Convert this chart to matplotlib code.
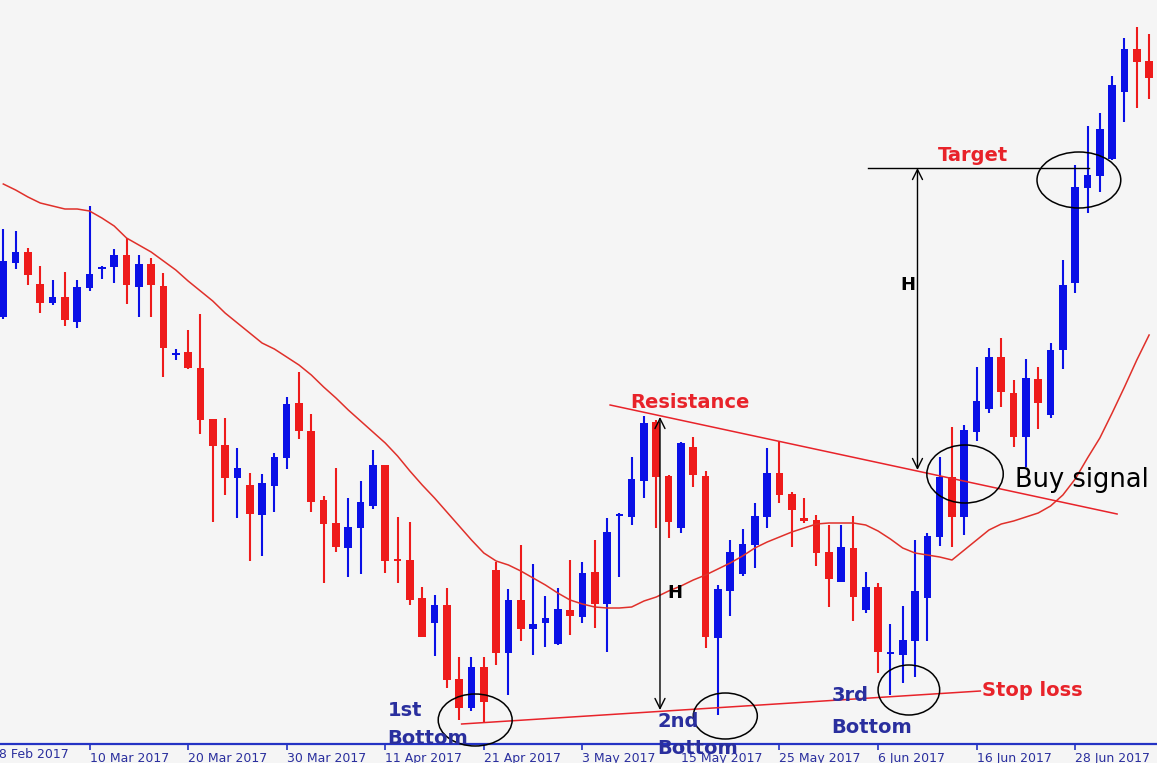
import matplotlib
matplotlib.use("Agg")
import matplotlib.pyplot as plt
from matplotlib.patches import Ellipse
import numpy as np

# ---------------- data (arbitrary price units) ----------------
opens = [483, 537, 548, 516, 497, 503, 478, 512, 531, 533, 545, 513, 536, 514, 445, 448,
         432, 381, 355, 322, 315, 285, 314, 342, 397, 369, 300, 277, 252, 272, 294, 335,
         240, 240, 202, 177, 195, 121, 92, 133, 230, 147, 200, 171, 177, 156, 190, 183,
         228, 196, 284, 283, 319, 378, 324, 272, 353, 324, 162, 209, 226, 255, 283, 327,
         306, 282, 280, 248, 218, 252, 190, 213, 146, 145, 159, 202, 263, 323, 283, 368,
         391, 443, 407, 363, 421, 385, 450, 517, 612, 624, 641, 708, 751, 739]
highs = [571, 569, 552, 534, 520, 528, 520, 594, 534, 551, 562, 545, 542, 527, 451, 470,
         486, 381, 382, 352, 327, 326, 347, 403, 428, 386, 304, 332, 302, 319, 350, 335,
         283, 278, 213, 205, 212, 143, 143, 143, 238, 211, 255, 236, 204, 212, 240, 238,
         260, 282, 287, 343, 384, 380, 325, 358, 363, 329, 215, 260, 271, 297, 352, 358,
         308, 302, 285, 275, 275, 284, 228, 217, 176, 194, 260, 267, 343, 373, 375, 433,
         452, 462, 420, 441, 433, 457, 540, 635, 674, 687, 724, 762, 773, 766]
lows = [481, 531, 515, 487, 495, 474, 472, 509, 521, 517, 496, 483, 483, 423, 440, 431,
        366, 278, 305, 282, 239, 244, 288, 331, 361, 288, 217, 248, 223, 226, 291, 227,
        217, 195, 163, 144, 112, 80, 89, 77, 135, 105, 159, 145, 153, 155, 165, 177,
        172, 148, 223, 275, 302, 272, 262, 267, 313, 152, 85, 184, 224, 232, 272, 297,
        253, 277, 234, 193, 218, 179, 187, 127, 105, 117, 123, 159, 254, 253, 265, 359,
        387, 393, 353, 333, 371, 382, 431, 507, 587, 608, 640, 678, 692, 701]
closes = [539, 548, 525, 497, 503, 480, 513, 526, 533, 545, 515, 536, 515, 452, 447, 432,
          380, 354, 322, 332, 286, 317, 343, 396, 369, 298, 276, 253, 273, 298, 335, 239,
          239, 200, 163, 195, 120, 92, 133, 98, 147, 200, 171, 176, 182, 191, 184, 227,
          196, 268, 286, 321, 377, 323, 278, 357, 325, 163, 211, 248, 256, 284, 327, 305,
          290, 279, 247, 221, 253, 203, 213, 148, 148, 160, 209, 264, 323, 283, 370, 399,
          443, 408, 363, 422, 397, 450, 515, 613, 625, 671, 715, 751, 738, 722]
moving_avg = [616, 610, 603, 597, 594, 591, 591, 589, 582, 574, 562, 555, 548, 539, 530, 519,
              509, 499, 487, 477, 467, 457, 451, 443, 435, 425, 413, 402, 390, 379, 368, 357,
              344, 329, 315, 302, 288, 274, 260, 247, 239, 235, 229, 222, 215, 207, 200, 196,
              193, 192, 192, 193, 199, 203, 209, 214, 220, 225, 231, 237, 244, 252, 258, 263,
              268, 272, 276, 277, 277, 277, 275, 269, 261, 252, 247, 245, 243, 240, 250, 260,
              270, 276, 279, 283, 287, 294, 305, 321, 342, 362, 387, 413, 440, 465]
tick_idx = [7, 15, 23, 31, 39, 47, 55, 63, 71, 79, 87]
tick_labels = ["10 Mar 2017", "20 Mar 2017", "30 Mar 2017", "11 Apr 2017", "21 Apr 2017",
               "3 May 2017", "15 May 2017", "25 May 2017", "6 Jun 2017", "16 Jun 2017",
               "28 Jun 2017"]
first_label = "28 Feb 2017"

# ---------------- styling ----------------
BG = "#f5f5f5"
UP = "#0a10e6"
DOWN = "#ee1b1b"
MA_C = "#e0302a"
AXIS_BLUE = "#2433c4"
LABEL_BLUE = "#2a2f9e"
ANN_RED = "#e8232a"

fig = plt.figure(figsize=(11.57, 7.63), dpi=100, facecolor=BG)
ax = fig.add_axes([0, 0.0249, 1, 0.9751])
ax.set_facecolor(BG)

x = np.arange(len(opens))
o = np.array(opens, float); h = np.array(highs, float)
l = np.array(lows, float); c = np.array(closes, float)
up = c >= o
cols = np.where(up, UP, DOWN)

ax.vlines(x, l, h, colors=cols, linewidth=1.5, zorder=2)
body_bottom = np.minimum(o, c)
body_h = np.maximum(np.abs(c - o), 2.0)
ax.bar(x, body_h, bottom=body_bottom, width=0.62, color=cols, linewidth=0, zorder=2)

ax.plot(x, moving_avg, color=MA_C, linewidth=1.1, zorder=3)

ax.set_xlim(-0.268, 93.64)
ax.set_ylim(56, 800)

# axis styling
for s in ["top", "right", "left"]:
    ax.spines[s].set_visible(False)
ax.spines["bottom"].set_color(AXIS_BLUE)
ax.spines["bottom"].set_linewidth(1.6)
ax.set_yticks([])
ax.set_xticks(tick_idx)
ax.set_xticklabels(tick_labels, ha="left", color=LABEL_BLUE, fontsize=9)
ax.tick_params(axis="x", direction="out", length=4, width=1.2, color=AXIS_BLUE, pad=2)
ax.text(-1, -0.006, first_label, transform=ax.get_xaxis_transform(), ha="left", va="top",
        color=LABEL_BLUE, fontsize=9, clip_on=False)

# ---------------- annotations ----------------
# resistance line
ax.plot([49.25, 90.4], [395, 286], color=ANN_RED, linewidth=1.1, zorder=4)
ax.text(55.7, 398, "Resistance", color=ANN_RED, fontsize=14, fontweight="bold",
        ha="center", va="center", zorder=6)
# support / stop loss line
ax.plot([37.2, 79.3], [76, 109], color=ANN_RED, linewidth=1.1, zorder=4)
ax.text(79.4, 110, "Stop loss", color=ANN_RED, fontsize=14, fontweight="bold",
        ha="left", va="center", zorder=6)
# target line
ax.plot([70.2, 88.1], [632, 632], color="black", linewidth=1.0, zorder=4)
ax.text(78.7, 645, "Target", color=ANN_RED, fontsize=14, fontweight="bold",
        ha="center", va="center", zorder=6)

# H arrows
arrow_kw = dict(arrowstyle="<->", color="black", lw=1.0, mutation_scale=18,
                shrinkA=0, shrinkB=0)
ax.annotate("", xy=(74.2, 632), xytext=(74.2, 330), arrowprops=arrow_kw, zorder=5)
ax.annotate("", xy=(53.3, 383), xytext=(53.3, 90), arrowprops=arrow_kw, zorder=5)
ax.text(73.4, 515, "H", fontsize=13, fontweight="bold", ha="center", va="center", zorder=6)
ax.text(54.5, 207, "H", fontsize=13, fontweight="bold", ha="center", va="center", zorder=6)

# ellipses
for cx, cy, w, hh in [(38.3, 80, 6.0, 52), (58.6, 84, 5.2, 46), (73.5, 110, 5.0, 50),
                      (78.06, 326, 6.2, 58), (87.3, 620, 6.8, 56)]:
    ax.add_patch(Ellipse((cx, cy), w, hh, fill=False, edgecolor="black",
                         linewidth=1.1, zorder=5, clip_on=False))

ax.text(82.1, 320, "Buy signal", fontsize=18.5, ha="left", va="center", color="black", zorder=6)

# bottom labels
for lx, y1, y2, t in [(31.2, 90, 62, "1st"), (53.1, 79, 52, "2nd"), (67.2, 105, 73, "3rd")]:
    ax.text(lx, y1, t, color=LABEL_BLUE, fontsize=14, fontweight="bold", ha="left",
            va="center", zorder=7, clip_on=False)
    ax.text(lx, y2, "Bottom", color=LABEL_BLUE, fontsize=14, fontweight="bold", ha="left",
            va="center", zorder=7, clip_on=False)

fig.savefig("out.png", dpi=100, facecolor=BG)
